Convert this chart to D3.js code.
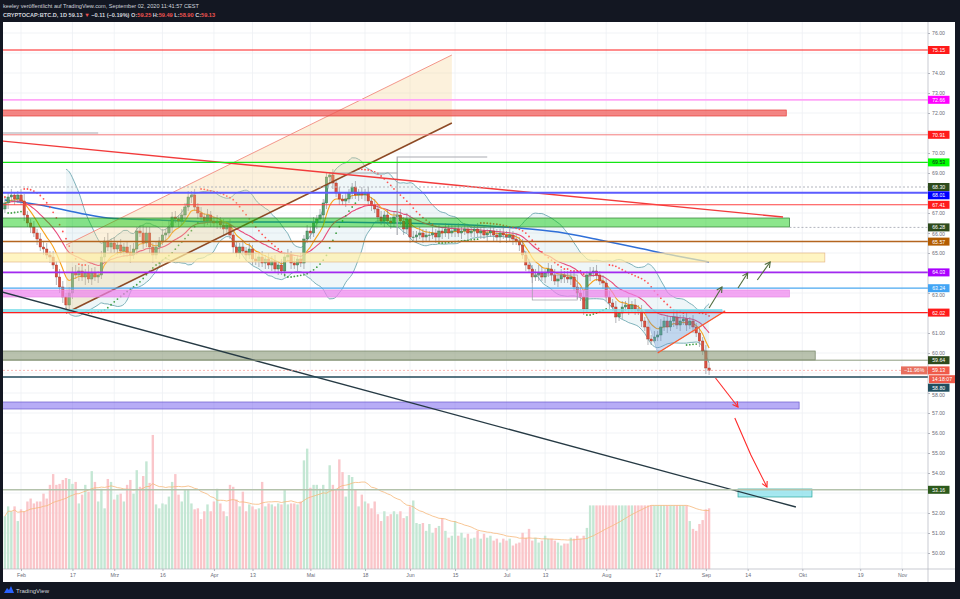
<!DOCTYPE html>
<html><head><meta charset="utf-8">
<script src="https://cdn.jsdelivr.net/npm/d3@7"></script>
<style>
body{margin:0;background:#131722;overflow:hidden}
svg{display:block;font-family:"Liberation Sans",Arial,sans-serif}
</style></head><body>
<script>
var W = 960, H = 599;
var pd = d3.timeParse("%Y-%m-%d");

// daily candles from 2020-01-27, open = previous close
var firstDay = "2020-01-27";
var firstOpen = 67.2;
var closes = [67.5,67.8,67.9,67.7,67.9,67.6,66.9,66.5,66.3,66.0,
 65.7,65.3,65.2,64.9,64.8,64.4,63.8,63.3,62.8,62.4,
 63.0,64.0,63.9,64.1,63.8,64.0,63.7,64.0,63.8,63.9,
 64.8,65.6,65.3,65.5,65.2,65.4,65.1,65.3,65.0,64.9,
 65.2,66.1,66.0,65.5,66.0,65.3,64.9,65.3,65.6,65.9,
 66.0,66.3,66.8,66.7,66.6,66.9,67.3,67.8,67.9,67.3,
 67.0,66.8,66.6,66.9,66.6,66.5,66.6,66.4,66.2,66.4,
 65.9,65.3,65.0,65.3,65.1,64.9,65.2,64.7,64.6,64.8,
 64.5,64.7,64.4,64.6,64.2,64.4,64.1,64.8,64.9,64.5,
 64.4,64.7,64.5,65.7,66.1,66.0,66.5,66.7,66.9,67.5,
 68.8,68.9,68.5,68.0,67.7,67.6,67.7,68.0,68.3,67.9,
 68.0,67.9,68.0,67.6,67.4,67.2,66.8,66.6,66.9,66.6,
 66.5,66.8,66.9,66.6,66.2,66.7,65.8,65.8,65.9,66.0,
 65.8,65.9,65.9,66.0,65.8,66.1,66.0,66.2,66.0,66.1,
 66.2,66.0,66.1,66.2,66.0,66.1,66.2,66.0,66.1,65.9,
 66.0,66.1,65.9,65.8,66.0,65.9,65.8,65.9,65.7,65.6,
 65.4,64.9,64.4,64.2,63.8,63.9,64.0,63.8,64.0,64.2,
 63.9,63.6,63.7,63.9,63.8,63.7,63.8,63.3,63.0,62.8,
 62.2,63.9,64.0,64.1,63.9,63.6,63.5,62.8,62.5,62.3,
 61.8,62.0,62.3,62.4,62.2,62.4,62.2,62.1,61.6,61.3,
 60.7,60.6,60.8,60.9,61.3,61.6,61.3,61.6,61.8,61.4,
 61.6,61.7,61.4,61.6,61.3,61.0,60.6,60.1,59.25,59.13];
var wickUp = [.3,.2,.3,.15,.2,.3,.35,.2,.2,.3,
 .2,.3,.25,.3,.2,.3,.2,.4,.3,.2,
 .3,.3,.4,.2,.3,.2,.4,.25,.3,.2,
 .3,.2,.4,.2,.3,.2,.3,.2,.3,.4,
 .3,.2,.3,.4,.3,.3,.2,.3,.2,.3,
 .2,.3,.25,.3,.2,.3,.2,.3,.2,.3,
 .2,.3,.2,.3,.2,.25,.3,.2,.3,.2,
 .3,.2,.3,.2,.35,.2,.3,.2,.3,.2,
 .3,.2,.3,.25,.3,.2,.3,.2,.3,.2,
 .3,.2,.3,.2,.3,.2,.3,.2,.3,.2,
 .2,.15,.3,.2,.3,.2,.3,.2,.2,.3,
 .2,.3,.2,.3,.2,.3,.2,.3,.2,.3,
 .2,.3,.2,.3,.2,.3,.2,.3,.2,.3,
 .2,.3,.2,.3,.2,.3,.2,.3,.2,.3,
 .2,.3,.2,.3,.2,.3,.2,.3,.2,.3,
 .2,.3,.2,.3,.2,.3,.2,.3,.2,.3,
 .2,.3,.2,.3,.2,.3,.4,.3,.2,.3,
 .2,.3,.2,.3,.2,.3,.2,.3,.2,.3,
 .3,.2,.3,.2,.3,.2,.3,.2,.3,.2,
 .3,.2,.3,.2,.4,.2,.3,.2,.3,.2,
 .3,.2,.3,.2,.4,.2,.3,.2,.3,.2,
 .3,.2,.3,.2,.3,.2,.3,.2,.3,.24];
var wickDn = [.2,.3,.2,.3,.2,.2,.3,.2,.3,.2,
 .3,.2,.3,.2,.3,.2,.4,.3,.3,.4,
 .2,.3,.2,.3,.2,.4,.2,.3,.2,.3,
 .2,.3,.2,.3,.2,.3,.2,.3,.2,.4,
 .2,.3,.2,.3,.2,.3,.4,.2,.3,.2,
 .3,.2,.3,.2,.3,.2,.3,.2,.3,.2,
 .3,.2,.3,.2,.3,.2,.3,.2,.3,.2,
 .2,.3,.2,.3,.2,.3,.2,.3,.2,.3,
 .2,.3,.2,.3,.2,.3,.2,.3,.2,.3,
 .2,.3,.2,.3,.2,.3,.2,.3,.2,.3,
 .3,.2,.3,.2,.3,.2,.3,.2,.3,.2,
 .3,.2,.3,.2,.3,.2,.3,.2,.3,.2,
 .3,.2,.3,.2,.3,.2,.3,.2,.3,.2,
 .3,.2,.3,.2,.3,.2,.3,.2,.3,.2,
 .3,.2,.3,.2,.3,.2,.3,.2,.3,.2,
 .3,.2,.3,.2,.3,.2,.3,.2,.3,.2,
 .3,.2,.3,.2,.3,.2,.3,.2,.3,.2,
 .3,.2,.3,.2,.3,.2,.3,.2,.3,.2,
 .3,.2,.3,.2,.3,.2,.3,.2,.3,.2,
 .3,.2,.3,.2,.3,.2,.3,.2,.3,.2,
 .3,.2,.1,.2,.3,.2,.3,.2,.3,.2,
 .3,.2,.3,.2,.3,.2,.3,.2,.3,.23];
var volume = [54,64,59,64,49,61,59,69,72,67,
 69,69,77,72,86,97,86,87,91,93,
 92,87,89,67,76,86,79,100,89,69,
 82,62,92,89,71,76,77,69,86,91,
 77,101,84,95,110,88,137,66,62,67,
 66,74,89,97,76,69,81,81,67,61,
 62,51,59,66,59,69,82,67,59,54,
 86,84,71,64,79,59,66,64,61,62,
 89,64,67,66,64,67,66,81,66,67,
 67,66,69,111,123,83,86,86,82,86,
 81,106,86,82,112,99,74,96,94,81,
 64,76,69,67,62,69,56,49,59,54,
 56,59,56,59,52,54,64,70,47,46,
 47,39,46,37,42,44,52,39,32,34,
 49,34,37,32,36,31,32,39,31,36,
 32,34,29,31,27,31,29,31,24,26,
 27,37,32,41,29,32,27,29,34,31,
 31,29,27,24,26,26,32,31,34,31,
 34,42,65,65,65,65,65,65,65,65,
 65,65,65,65,65,65,65,65,65,65,
 65,65,65,65,65,65,65,65,65,65,
 65,65,65,49,41,39,46,50,61,62];

// long moving average
var maDates = ["2020-01-27","2020-02-07","2020-02-19","2020-02-28","2020-03-15","2020-04-02","2020-04-27","2020-05-28","2020-06-19","2020-07-05","2020-07-17","2020-07-30","2020-08-11","2020-08-23","2020-09-02"];
var maVals = [67.65,67.4,67.0,66.75,66.65,66.55,66.55,66.5,66.4,66.25,66.05,65.65,65.25,64.85,64.55];

// horizontal levels
var levelVals = [75.15,72.66,70.91,69.53,68.30,68.01,67.41,66.28,65.57,64.03,63.24,62.02,59.64,58.80,53.16];
var levelFrom = [null,null,null,null,null,null,null,"2020-09-27",null,null,null,null,null,null,null];
var levelLine = ['#ff1a1a','#ffa6f7','#f47c7c','#14e614','#b2b5be','#5c5cff','#ff4040','#b2b5be','#b4651f','#a229f0','#4aa8f0','#ff1f1f','#8d9b7f','#21495a','#b3c2ab'];
var levelWidth = [1,1.8,1,1.4,1,2,1.1,1,1.5,1.6,1.2,1.3,1,1.3,1.6];
var levelDash = [0,0,0,0,1,0,0,1,0,0,0,0,0,0,0];
var badgeBg = ['#ff1a1a','#ff00ff','#ff1a1a','#00ff00','#2d4a1c','#0000ff','#ff1a1a','#2d4a1c','#b35c00','#aa00ff','#42a5f5','#ff1a1a','#2d4a1c','#1f4e5f','#2d5a1c'];
var badgeFg = ['#fff','#fff','#fff','#131722','#fff','#fff','#fff','#fff','#fff','#fff','#fff','#fff','#fff','#fff','#fff'];

// zones: top, bottom, from, to
var zoneTop = [72.15,66.75,65.0,63.15,62.18,60.1,57.55,53.2];
var zoneBot = [71.85,66.3,64.55,62.8,62.04,59.65,57.2,52.8];
var zoneFrom = ["2020-01-01","2020-01-01","2020-01-01","2020-01-01","2020-01-01","2020-01-01","2020-01-01","2020-09-11"];
var zoneTo = ["2020-09-26","2020-09-27","2020-10-08","2020-09-27","2020-09-06","2020-10-05","2020-09-30","2020-10-04"];
var zoneFill = ['#ef5350','#00c800','#fff1a8','#ee82ee','#80deea','#8a9a78','#7b68ee','#80deea'];
var zoneOp = [.7,.45,.7,.7,.8,.6,.55,.7];
var zoneStroke = ['#e53935','#2e7d32','#e6b98a','#e58be5','#80deea','#6f7f60','#6a5acd','#26a69a'];

// trend lines
var redTrend = [["2020-01-26",70.6],["2020-09-25",66.8]];
var blackTrend = [["2020-01-25",63.1],["2020-09-29",52.3]];
var chanLow = [["2020-02-15",62.0],["2020-06-14",71.5]];
var chanHigh = [["2020-02-15",65.4],["2020-06-14",74.9]];
var triangle = [["2020-08-13",62.15],["2020-09-07",62.1],["2020-08-17",60.0]];
var greenArrows = [[["2020-09-02",62.25],["2020-09-06",63.3]],[["2020-09-11",63.25],["2020-09-14",64.0]],[["2020-09-17",63.65],["2020-09-21",64.55]]];
var redArrows = [[["2020-09-04",58.75],["2020-09-11",57.3]],[["2020-09-10",56.75],["2020-09-15",54.9],["2020-09-20",53.3]]];
var grayLines = [[["2020-01-01",71.0],["2020-02-25",71.0]],[["2020-05-07",69.0],["2020-05-28",69.0]],[["2020-05-28",65.9],["2020-05-28",69.8],["2020-06-25",69.8]]];
var grayBox = [["2020-07-09",63.9],["2020-07-23",62.65]];

var tickDates = ["2020-02-01","2020-02-17","2020-03-01","2020-03-16","2020-04-01","2020-04-13","2020-05-01","2020-05-18","2020-06-01","2020-06-15","2020-07-01","2020-07-13","2020-08-01","2020-08-17","2020-09-01","2020-09-14","2020-10-01","2020-10-19","2020-11-01"];
var tickLabels = ["Feb","17","Mrz","16","Apr","13","Mai","18","Jun","15","Jul","13","Aug","17","Sep","14","Okt","19","Nov"];

var x = d3.scaleTime().domain([pd("2020-02-01"), pd("2020-11-01")]).range([21, 902]);
var y = d3.scaleLinear().domain([50, 76]).range([553, 33]);
var yv = d3.scaleLinear().domain([0, 140]).range([569, 432]);
var L = 3, R = 928, T = 22, B = 569;

var start = pd(firstDay);
var days = closes.map(function(c, i) { return d3.timeDay.offset(start, i); });
var opens = closes.map(function(c, i) { return i ? closes[i-1] : firstOpen; });
var highs = closes.map(function(c, i) { return Math.max(c, opens[i]) + wickUp[i]; });
var lows = closes.map(function(c, i) { return Math.min(c, opens[i]) - wickDn[i]; });

function ema(a, n) {
  var k = 2 / (n + 1), e = a[0];
  return a.map(function(v, i) { e = i ? k * v + (1 - k) * e : v; return e; });
}
function bands(a, n, m) {
  var out = [];
  a.forEach(function(v, i) {
    if (i < n - 1) return;
    var w = a.slice(i - n + 1, i + 1), mu = d3.mean(w), sd = Math.sqrt(d3.mean(w, function(d) { return (d - mu) * (d - mu); }));
    out.push({i: i, up: mu + m * sd, lo: mu - m * sd});
  });
  return out;
}
function psar(hi, lo, step, maxAf) {
  var up = false, af = step, ep = lo[0], sar = hi[0], out = [{sar: sar, up: up}];
  for (var i = 1; i < hi.length; i++) {
    sar = sar + af * (ep - sar);
    if (up) {
      sar = Math.min(sar, lo[i-1], lo[Math.max(0, i-2)]);
      if (lo[i] < sar) { up = false; sar = ep; ep = lo[i]; af = step; }
      else if (hi[i] > ep) { ep = hi[i]; af = Math.min(af + step, maxAf); }
    } else {
      sar = Math.max(sar, hi[i-1], hi[Math.max(0, i-2)]);
      if (hi[i] > sar) { up = true; sar = ep; ep = hi[i]; af = step; }
      else if (lo[i] < ep) { ep = lo[i]; af = Math.min(af + step, maxAf); }
    }
    out.push({sar: sar, up: up});
  }
  return out;
}
var volMa = volume.map(function(v, i) { return d3.mean(volume.slice(Math.max(0, i - 19), i + 1)); });

var svg = d3.select('body').append('svg').attr('width', W).attr('height', H);
svg.append('rect').attr('width', W).attr('height', H).attr('fill', '#131722');
svg.append('rect').attr('x', L).attr('y', T).attr('width', 955 - L).attr('height', 582 - T).attr('fill', '#fff');
svg.append('defs').append('clipPath').attr('id', 'clip')
  .append('rect').attr('x', L).attr('y', T).attr('width', R - L).attr('height', B - T);

// header
var hd = svg.append('g').attr('font-size', 5.6).attr('fill', '#d1d4dc');
hd.append('text').attr('x', 3).attr('y', 8).text('keeley veröffentlicht auf TradingView.com, September 02, 2020 11:41:57 CEST');
var h2 = hd.append('text').attr('x', 3).attr('y', 16.5).attr('font-weight', 'bold');
[['CRYPTOCAP:BTC.D, 1D ', '#d1d4dc'], ['59.13 ', '#d1d4dc'], ['▼ ', '#ef5350'], ['−0.11 (−0.19%) ', '#d1d4dc'],
 ['O:', '#d1d4dc'], ['59.25 ', '#ef5350'], ['H:', '#d1d4dc'], ['59.49 ', '#ef5350'], ['L:', '#d1d4dc'], ['58.90 ', '#ef5350'],
 ['C:', '#d1d4dc'], ['59.13', '#ef5350']].forEach(function(p) { h2.append('tspan').attr('fill', p[1]).text(p[0]); });

var g = svg.append('g').attr('clip-path', 'url(#clip)');

// grid
g.selectAll('.hg').data(d3.range(50, 77)).enter().append('line')
  .attr('x1', L).attr('x2', R).attr('y1', function(d) { return y(d); }).attr('y2', function(d) { return y(d); })
  .attr('stroke', '#eef0f4').attr('stroke-width', 0.8);
g.selectAll('.vg').data(tickDates).enter().append('line')
  .attr('x1', function(d) { return x(pd(d)); }).attr('x2', function(d) { return x(pd(d)); })
  .attr('y1', T).attr('y2', B).attr('stroke', '#eef0f4').attr('stroke-width', 0.8);

// bollinger
var bb = bands(closes, 20, 2);
g.append('path').datum(bb).attr('fill', '#7fb8c8').attr('opacity', 0.13)
  .attr('d', d3.area().curve(d3.curveMonotoneX).x(function(d) { return x(days[d.i]); })
    .y0(function(d) { return y(d.lo); }).y1(function(d) { return y(d.up); }));
['up', 'lo'].forEach(function(k) {
  g.append('path').datum(bb).attr('fill', 'none').attr('stroke', '#5e9ea8').attr('stroke-width', 0.8)
    .attr('d', d3.line().curve(d3.curveMonotoneX).x(function(d) { return x(days[d.i]); }).y(function(d) { return y(d[k]); }));
});

// volume
g.selectAll('.vol').data(volume).enter().append('rect')
  .attr('x', function(d, i) { return x(days[i]) - 1.2; }).attr('width', 2.4)
  .attr('y', function(d) { return yv(d); }).attr('height', function(d) { return B - yv(d); })
  .attr('fill', function(d, i) { return closes[i] >= opens[i] ? '#c4e7d4' : '#fac6ca'; });
g.append('path').datum(volMa).attr('fill', 'none').attr('stroke', '#f6b87a').attr('stroke-width', 0.8)
  .attr('d', d3.line().x(function(d, i) { return x(days[i]); }).y(function(d) { return yv(d); }));

// long MA
g.append('path').datum(maVals).attr('fill', 'none').attr('stroke', '#2f6fd8').attr('stroke-width', 1.5)
  .attr('d', d3.line().curve(d3.curveMonotoneX).x(function(d, i) { return x(pd(maDates[i])); }).y(function(d) { return y(d); }));

// ema lines
[[21, '#e8497a'], [8, '#f7a21b']].forEach(function(e) {
  g.append('path').datum(ema(closes, e[0])).attr('fill', 'none').attr('stroke', e[1]).attr('stroke-width', 1.1)
    .attr('d', d3.line().curve(d3.curveMonotoneX).x(function(d, i) { return x(days[i]); }).y(function(d) { return y(d); }));
});

// candles
var cg = g.append('g');
closes.forEach(function(c, i) {
  var up = c >= opens[i], cx = x(days[i]);
  cg.append('line').attr('x1', cx).attr('x2', cx).attr('y1', y(highs[i])).attr('y2', y(lows[i]))
    .attr('stroke', '#80838c').attr('stroke-width', 0.6);
  var top = y(Math.max(c, opens[i]));
  cg.append('rect').attr('x', cx - 1.2).attr('width', 2.4).attr('y', top)
    .attr('height', Math.max(0.6, Math.abs(y(c) - y(opens[i]))))
    .attr('fill', up ? '#5aa271' : '#d9503f').attr('stroke', up ? '#2e6b45' : '#a33224').attr('stroke-width', 0.4);
});

// parabolic sar
g.selectAll('.sar').data(psar(highs, lows, 0.01, 0.1)).enter().append('circle')
  .attr('cx', function(d, i) { return x(days[i]); }).attr('cy', function(d) { return y(d.sar); }).attr('r', 0.9)
  .attr('fill', function(d) { return d.up ? '#43a047' : '#ff5252'; });

function pt(d) { return [x(pd(d[0])), y(d[1])]; }
var line = d3.line();

// channel
var chan = [pt(chanLow[0]), pt(chanLow[1]), pt(chanHigh[1]), pt(chanHigh[0])];
g.append('path').attr('d', line(chan) + 'Z').attr('fill', '#f5d08a').attr('opacity', 0.3);
g.append('path').attr('d', line(chanHigh.map(pt))).attr('stroke', '#f28b7f').attr('stroke-width', 0.9).attr('fill', 'none');
g.append('path').attr('d', line(chanLow.map(pt))).attr('stroke', '#8d4a25').attr('stroke-width', 1.6).attr('fill', 'none');

// zones
zoneTop.forEach(function(t, i) {
  var x0 = x(pd(zoneFrom[i])), x1 = x(pd(zoneTo[i]));
  g.append('rect').attr('x', x0).attr('width', x1 - x0).attr('y', y(t)).attr('height', y(zoneBot[i]) - y(t))
    .attr('fill', zoneFill[i]).attr('fill-opacity', zoneOp[i]).attr('stroke', zoneStroke[i]).attr('stroke-width', 0.7);
});

// triangle
g.append('path').attr('d', line(triangle.map(pt)) + 'Z').attr('fill', '#5b8fd6').attr('fill-opacity', 0.3)
  .attr('stroke', '#9cb8e0').attr('stroke-width', 0.7);
g.append('path').attr('d', line([pt(triangle[2]), pt(triangle[1])])).attr('stroke', '#ff5a2a').attr('stroke-width', 1.4);

// gray drawings
grayLines.forEach(function(l) {
  g.append('path').attr('d', line(l.map(pt))).attr('stroke', '#a9abb2').attr('stroke-width', 1.2).attr('fill', 'none');
});
var gb0 = pt(grayBox[0]), gb1 = pt(grayBox[1]);
g.append('rect').attr('x', gb0[0]).attr('y', gb0[1]).attr('width', gb1[0] - gb0[0]).attr('height', gb1[1] - gb0[1])
  .attr('fill', 'none').attr('stroke', '#9a9ca3').attr('stroke-width', 0.7);

// trend lines
g.append('path').attr('d', line(redTrend.map(pt))).attr('stroke', '#f23b3b').attr('stroke-width', 1.4);
g.append('path').attr('d', line(blackTrend.map(pt))).attr('stroke', '#263a44').attr('stroke-width', 1.3);

// levels
levelVals.forEach(function(v, i) {
  var x0 = levelFrom[i] ? x(pd(levelFrom[i])) : L;
  g.append('line').attr('x1', x0).attr('x2', R).attr('y1', y(v)).attr('y2', y(v))
    .attr('stroke', levelLine[i]).attr('stroke-width', levelWidth[i])
    .attr('stroke-dasharray', levelDash[i] ? '2,2' : null);
});
var last = closes[closes.length - 1];
g.append('line').attr('x1', L).attr('x2', R).attr('y1', y(last)).attr('y2', y(last))
  .attr('stroke', '#f5a3a0').attr('stroke-width', 0.8).attr('stroke-dasharray', '2,2');

// arrows
function arrow(pts, color) {
  var p = pts.map(pt);
  g.append('path').attr('d', line(p)).attr('stroke', color).attr('stroke-width', 1.1).attr('fill', 'none');
  var a = p[p.length - 2], b = p[p.length - 1], ang = Math.atan2(b[1] - a[1], b[0] - a[0]), len = 6;
  var h1 = [b[0] - len * Math.cos(ang - 0.5), b[1] - len * Math.sin(ang - 0.5)];
  var h2 = [b[0] - len * Math.cos(ang + 0.5), b[1] - len * Math.sin(ang + 0.5)];
  g.append('path').attr('d', line([h1, b, h2])).attr('stroke', color).attr('stroke-width', 1.1).attr('fill', 'none');
}
greenArrows.forEach(function(a) { arrow(a, '#4f6b3c'); });
redArrows.forEach(function(a) { arrow(a, '#ff2a2a'); });

// axes frame
svg.append('line').attr('x1', L).attr('x2', 955).attr('y1', B).attr('y2', B).attr('stroke', '#b2b5be').attr('stroke-width', 0.7);
svg.append('line').attr('x1', R).attr('x2', R).attr('y1', T).attr('y2', 582).attr('stroke', '#b2b5be').attr('stroke-width', 0.7);

var ax = svg.append('g').attr('transform', 'translate(0,' + B + ')')
  .call(d3.axisBottom(x).tickValues(tickDates.map(pd)).tickFormat(function(d, i) { return tickLabels[i]; }).tickSize(2).tickPadding(2));
ax.select('.domain').remove();
ax.selectAll('line').attr('stroke', '#b2b5be');
ax.selectAll('text').attr('fill', '#6a6d78').attr('font-size', 5.2).attr('font-family', 'Liberation Sans, Arial');

// price badges: stack them so they do not cover each other
var badges = levelVals.map(function(v, i) { return {v: v, bg: badgeBg[i], fg: badgeFg[i]}; });
badges.push({v: last, bg: '#ef5a4a', fg: '#fff', price: true});
badges.sort(function(a, b) { return b.v - a.v; });
var prev = -1e9;
badges.forEach(function(b) {
  b.top = Math.max(y(b.v) - 4, prev);
  b.bot = b.top + (b.price ? 17 : 8);
  prev = b.bot + 0.3;
});

// price axis, ticks that sit under a badge are hidden, near ones are nudged
var shown = [], shift = {};
d3.range(50, 77).forEach(function(v) {
  var ty = y(v), hidden = false, dy = 0;
  badges.forEach(function(b) {
    if (ty >= b.top - 0.5 && ty <= b.bot + 0.5) hidden = true;
    else if (ty - 2.6 < b.bot && ty > b.bot) dy = b.bot - (ty - 2.6) + 0.3;
    else if (ty + 2.6 > b.top && ty < b.top) dy = b.top - (ty + 2.6) - 0.3;
  });
  if (!hidden) { shown.push(v); shift[v] = dy; }
});
var ay = svg.append('g').attr('transform', 'translate(' + R + ',0)')
  .call(d3.axisRight(y).tickValues(shown).tickFormat(function(d) { return d.toFixed(2); }).tickSize(2).tickPadding(2));
ay.select('.domain').remove();
ay.selectAll('line').attr('stroke', '#b2b5be');
ay.selectAll('text').attr('fill', '#6a6d78').attr('font-size', 5.2).attr('font-family', 'Liberation Sans, Arial')
  .attr('dy', function(d) { return (0.32 * 5.2 + shift[d]) + 'px'; });

var bgp = svg.append('g').attr('font-size', 5.2).attr('text-anchor', 'middle');
badges.forEach(function(b) {
  bgp.append('rect').attr('x', R).attr('y', b.top).attr('width', 21.5).attr('height', 8).attr('fill', b.bg);
  bgp.append('text').attr('x', R + 10.7).attr('y', b.top + 5.9).attr('fill', b.fg).text(b.v.toFixed(2));
  if (b.price) {
    bgp.append('rect').attr('x', 901).attr('y', b.top).attr('width', 26.5).attr('height', 8).attr('fill', '#e8705f');
    bgp.append('text').attr('x', 914.2).attr('y', b.top + 5.9).attr('fill', '#fff').text('−11.96%');
    bgp.append('rect').attr('x', R + 1).attr('y', b.top + 8.8).attr('width', 26).attr('height', 8).attr('fill', '#ef5a4a');
    bgp.append('text').attr('x', R + 14).attr('y', b.top + 14.7).attr('fill', '#fff').text('14:18:07');
  }
});

// footer
var ft = svg.append('g').attr('transform', 'translate(4,586)');
ft.append('path').attr('d', 'M0,7 L3,2 L5,4 L7,0 L10,7 Z').attr('fill', '#2962ff');
ft.append('text').attr('x', 12).attr('y', 6.5).attr('font-size', 6).attr('fill', '#d1d4dc').text('TradingView');
</script>
</body></html>
